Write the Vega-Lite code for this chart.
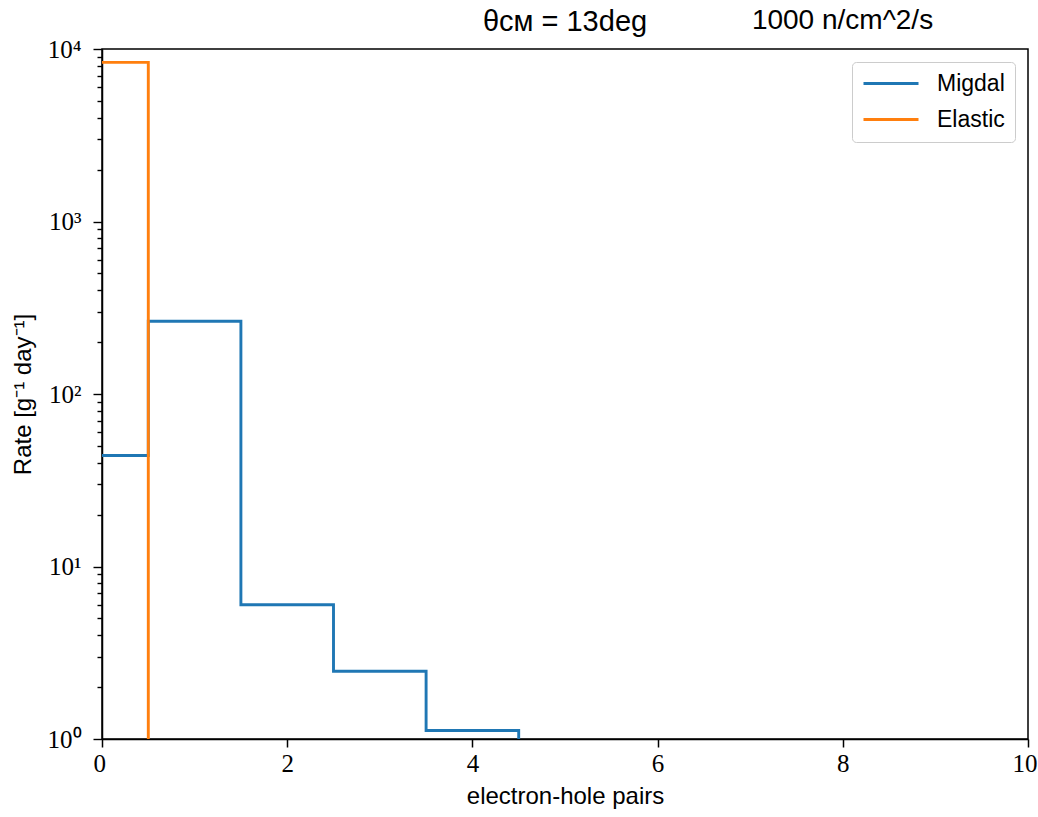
{
  "$schema": "https://vega.github.io/schema/vega-lite/v6.json",
  "width": 926,
  "height": 690,
  "autosize": {"type": "none"},
  "padding": {"left": 102, "top": 49, "right": 10, "bottom": 78},
  "background": "white",
  "title": {
    "text": "θᴄᴍ = 13deg",
    "font": "Liberation Sans",
    "fontSize": 29,
    "fontWeight": "normal",
    "color": "black",
    "anchor": "middle",
    "baseline": "alphabetic",
    "frame": "group",
    "offset": 14,
    "dy": 68
  },
  "data": {
    "values": [
      {"series": "Migdal", "pairs": 0, "rate": 44},
      {"series": "Migdal", "pairs": 0.5, "rate": 264},
      {"series": "Migdal", "pairs": 1.5, "rate": 6.0},
      {"series": "Migdal", "pairs": 2.5, "rate": 2.47},
      {"series": "Migdal", "pairs": 3.5, "rate": 1.12},
      {"series": "Migdal", "pairs": 4.5, "rate": 0.1},
      {"series": "Elastic", "pairs": 0, "rate": 8370},
      {"series": "Elastic", "pairs": 0.5, "rate": 0.1}
    ]
  },
  "layer": [
    {
      "mark": {"type": "line", "interpolate": "step-after", "clip": true, "strokeWidth": 2.9},
      "encoding": {
        "x": {
          "field": "pairs",
          "type": "quantitative",
          "scale": {"domain": [0, 10], "nice": false, "zero": false},
          "axis": {
            "orient": "bottom",
            "title": "electron-hole pairs",
            "values": [0, 2, 4, 6, 8, 10],
            "format": "d",
            "labelFont": "Liberation Serif",
            "labelFontSize": 25,
            "labelColor": "black",
            "labelPadding": 4,
            "labelFlush": true,
            "labelFlushOffset": 9,
            "tickSize": 8,
            "tickWidth": 1.5,
            "tickColor": "black",
            "domainColor": "black",
            "domainWidth": 1.5,
            "titleFont": "Liberation Sans",
            "titleFontSize": 24,
            "titleFontWeight": "normal",
            "titleColor": "black",
            "titlePadding": 8,
            "grid": false
          }
        },
        "y": {
          "field": "rate",
          "type": "quantitative",
          "scale": {"type": "log", "domain": [1, 10000], "nice": false},
          "axis": {
            "title": "Rate [g⁻¹ day⁻¹]",
            "values": [1, 2, 3, 4, 5, 6, 7, 8, 9, 10, 20, 30, 40, 50, 60, 70, 80, 90, 100, 200, 300, 400, 500, 600, 700, 800, 900, 1000, 2000, 3000, 4000, 5000, 6000, 7000, 8000, 9000, 10000],
            "labelExpr": "datum.value === 1 ? '10⁰' : datum.value === 10 ? '10¹' : datum.value === 100 ? '10²' : datum.value === 1000 ? '10³' : datum.value === 10000 ? '10⁴' : ''",
            "labelFont": "Liberation Serif",
            "labelFontSize": 25,
            "labelColor": "black",
            "labelPadding": 12,
            "labelOverlap": false,
            "labelFlush": false,
            "tickSize": {"condition": {"test": "indexof([1, 10, 100, 1000, 10000], datum.value) >= 0", "value": 9}, "value": 5},
            "tickWidth": 1.4,
            "tickColor": "black",
            "domainColor": "black",
            "domainWidth": 1.5,
            "titleFont": "Liberation Sans",
            "titleFontSize": 24,
            "titleFontWeight": "normal",
            "titleColor": "black",
            "titlePadding": 12,
            "grid": false
          }
        },
        "color": {
          "field": "series",
          "type": "nominal",
          "sort": ["Migdal", "Elastic"],
          "scale": {"domain": ["Migdal", "Elastic"], "range": ["#1f77b4", "#ff7f0e"]},
          "legend": {
            "title": null,
            "orient": "top-right",
            "offset": 13,
            "symbolType": "M-1,0H4.5",
            "symbolSize": 400,
            "symbolStrokeWidth": 2.9,
            "labelFont": "Liberation Sans",
            "labelFontSize": 23,
            "labelColor": "black",
            "labelOffset": 52,
            "rowPadding": 12,
            "padding": 10,
            "fillColor": "rgba(255,255,255,0.8)",
            "strokeColor": "#cccccc",
            "cornerRadius": 4
          }
        }
      }
    },
    {
      "mark": {"type": "point", "opacity": 0},
      "encoding": {
        "x": {
          "field": "pairs",
          "type": "quantitative",
          "axis": {
            "orient": "top",
            "title": "1000 n/cm^2/s",
            "labels": false,
            "ticks": false,
            "domain": false,
            "grid": false,
            "titleFont": "Liberation Sans",
            "titleFontSize": 28,
            "titleFontWeight": "normal",
            "titleColor": "black",
            "titleX": 740,
            "titleY": -21,
            "titleAlign": "center",
            "titleBaseline": "alphabetic"
          }
        }
      }
    }
  ],
  "resolve": {"axis": {"x": "independent"}},
  "config": {
    "view": {"stroke": "black", "strokeWidth": 1.5},
    "axis": {"grid": false}
  }
}
